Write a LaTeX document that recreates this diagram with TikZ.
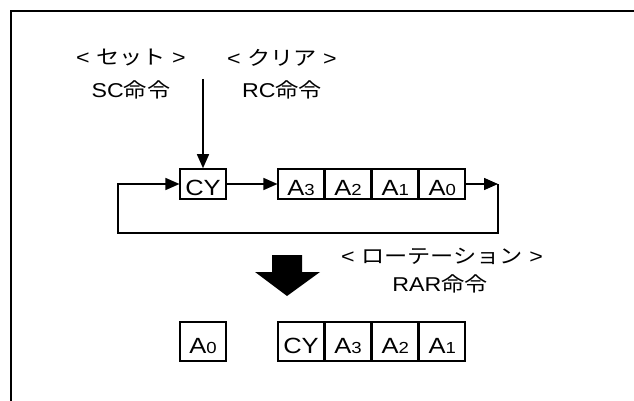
\documentclass[tikz,border=0pt]{standalone}
\usepackage{fontspec}
\setmainfont{Liberation Sans}[FakeStretch=1.16]
\newfontfamily\jp{Noto Sans CJK JP}[FakeStretch=1.16]
\usetikzlibrary{arrows.meta}
\newcommand{\sdig}[1]{{\fontsize{16}{16}\selectfont #1}}
\begin{document}
\begin{tikzpicture}[x=1pt,y=-1pt,
  conn/.style={line width=1.5pt},
  arr/.style={conn,-{Triangle[length=14pt,width=12pt]}},
  cell/.style={draw,line width=1.6pt,inner sep=0pt,minimum width=45.5pt,
    font=\fontsize{22}{22}\selectfont,text height=23.8pt,text depth=0pt},
  topcell/.style={cell,minimum height=30pt},
  botcell/.style={cell,minimum height=39pt,text height=24.8pt},
  lbl/.style={inner sep=0pt,font=\fontsize{20}{20}\selectfont}]
\useasboundingbox (0,0) rectangle (634,401);
% frame
\coordinate (fl) at (11,401);
\coordinate (fc) at (11,11);
\coordinate (fr) at (640,11);
\draw[line width=2.3pt] (fl) -- (fc) -- (fr);
% labels
\node[lbl] (set) at (131,58) {< {\jp セット} >};
\node[lbl] (sc) at (131,90) {SC{\jp 命令}};
\node[lbl] (clr) at (282,58) {< {\jp クリア} >};
\node[lbl] (rc) at (282,90) {RC{\jp 命令}};
\node[lbl] (rot) at (442,256) {< {\jp ローテーション} >};
\node[lbl] (rar) at (440,284) {RAR{\jp 命令}};
% top row
\node[topcell] (cy) at (203,184) {CY};
\node[topcell] (a3) at (301,184) {A\sdig{3}};
\node[topcell,anchor=west] (a2) at (a3.east) {A\sdig{2}};
\node[topcell,anchor=west] (a1) at (a2.east) {A\sdig{1}};
\node[topcell,anchor=west] (a0) at (a1.east) {A\sdig{0}};
% connectors
\coordinate (ts) at (203,79);
\draw[arr] (ts) -- (cy);
\draw[arr] (cy) -- (a3);
\coordinate (rt) at (498,184);
\coordinate (rb) at (498,233);
\coordinate (lb) at (118,233);
\coordinate (lt) at (118,184);
\draw[arr] (a0) -- (rt);
\draw[arr] (rt) -- (rb) -- (lb) -- (lt) -- (cy);
% big arrow
\fill (272,255) -- (302,255) -- (302,272) -- (320,272) -- (287,296) -- (255,272) -- (272,272) -- cycle;
% bottom row
\node[botcell] (b0) at (203,341.5) {A\sdig{0}};
\node[botcell] (bcy) at (301,341.5) {CY};
\node[botcell,anchor=west] (b3) at (bcy.east) {A\sdig{3}};
\node[botcell,anchor=west] (b2) at (b3.east) {A\sdig{2}};
\node[botcell,anchor=west] (b1) at (b2.east) {A\sdig{1}};
\end{tikzpicture}
\end{document}
